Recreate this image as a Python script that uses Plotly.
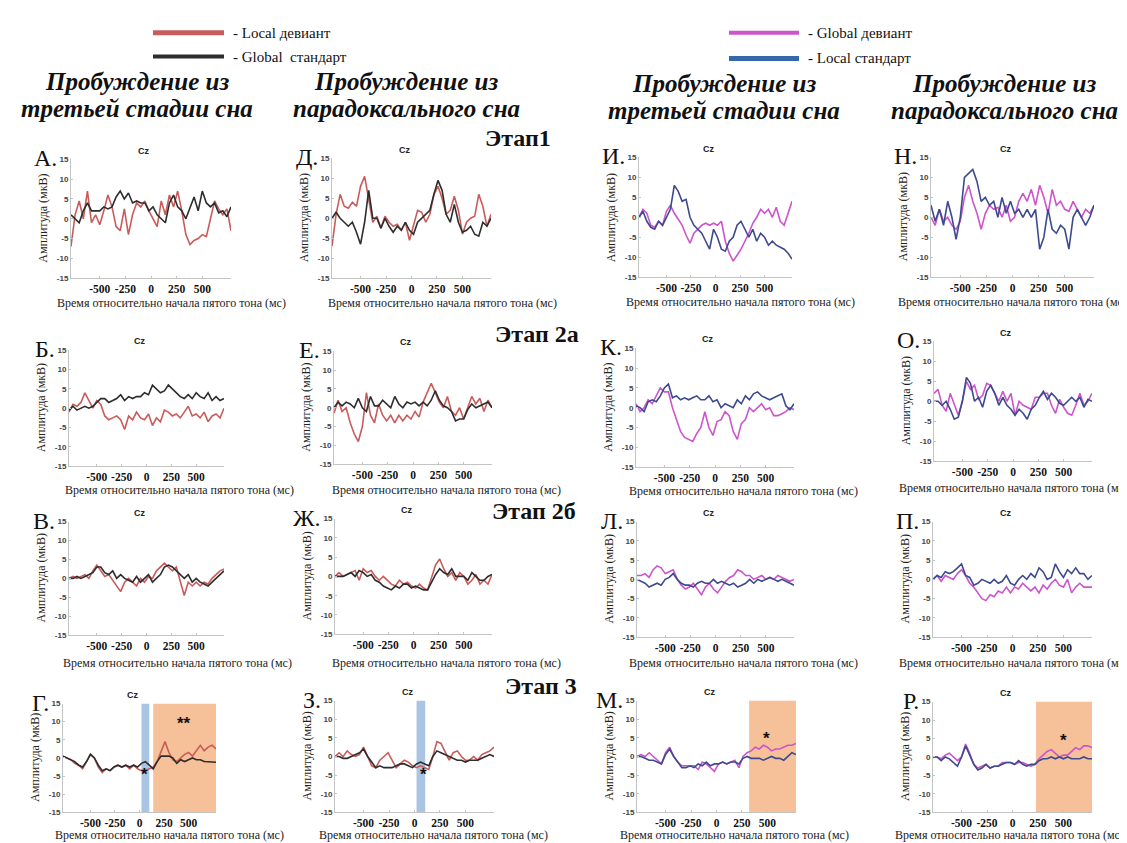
import plotly.graph_objects as go

# ---------------- data ----------------
t_ms = [-780, -740, -700, -660, -620, -580, -540, -500, -460, -420, -380, -340, -300, -260,
        -220, -180, -140, -100, -60, -20, 20, 60, 100, 140, 180, 220, 260, 300, 340, 380,
        420, 460, 500, 540, 580, 620, 660, 700, 740, 780]

# Row 1 (Этап1)
A_local_dev = [-7, 1, 4.5, 0, 7, -1, 1, -1.5, 2, 6, 3, -2, -3, 2.5, -4, 1, 4, 3, 4.5, 2,
               0, -2, 4.5, 1, 6, 3, 7, 2, -4, -6.5, -5.5, -5, -4, -4.5, 0, 4.5, 2.5, 1, 2.5, -3]
A_global_std = [1, 0, -1, 2, 4, 2, 2, 2, 3, 2.5, 3, 5.5, 7, 5, 6.5, 4, 4.5, 4, 4, 2,
                3, 1, 0, -1, 4, 6, 3, 2, 0, 3, 5.5, 2, 7, 4, 3, 4, 1.5, 2, 0.5, 3]
D_local_dev = [-7, 1, 6, 3, 2.5, 4, 3, 8, 10.5, 5, -1, 0.5, -2.5, 0.5, -1, -2, -1.5, -3, -1, -5.5,
               -2, 2, 1.5, -1, 1, 6, 8, 5, 1, 2, 5.5, 2, -4, -1, 0, 0.5, 6, 3, -2, 1]
D_global_std = [0, 1.5, 0, -1, -2, -1, -3.5, -6.5, -1, 7, 0, 0, -2.5, 0, -2, -3.5, -2, -3, -1, -3,
                -4, -1, 0, 1, 2, 6, 9.5, 7, 1, -1, 3.5, -1, -3.5, -3, -2, -4, -4.5, -1, -2, 0]
I_global_dev = [0, 2, 1, -2, -2.5, -1, -2, 1.5, 3, 1, -0.5, -2, -4.5, -6.5, -4, -3, -2, -1.5, -2, -1.5,
                -2, -1, -6, -9, -11, -9.5, -8, -6, -4, -1.5, 0, 2, 1, 2, 0, 2.5, -1, -2, 1, 4]
I_local_std = [0, 1.5, -1, -2.5, -3, -1, -2, 0, 2, 8, 6.5, 4, 4.5, 0, -2, -3, -4, -6, -8, -3,
               -5, -8, -8.5, -6, -5, -2, -1, -3, -5, -3, -6, -4, -5, -7, -6, -7, -7.5, -8, -9, -10.5]
N_global_dev = [0, -2, 2, -1, 0, -2, -3, -1, 5, 8, 4, 1, -3, 1, 3, 2, 2.5, 0, 3, -1,
                0, 4, 6, 4, 7, 3, 8, 5, 1, 7, 3, 4, 2, 1.5, 4, 2, 0, 2, 1, 3]
N_local_std = [3, -1, 2, -2, 4, 0, -5.5, 0, 10, 11, 12, 9, 4, 5, 3, 4, 0, 5, 1, 4,
               1, 2, 0, 2, 0, 2, -8, -5, 2, -3, -4, -2, -3, -8, 0, 2, 0, -2, 0, 3]

# Row 2 (Этап 2а)
B_local_dev = [-1, 1, 0.5, 1.5, 4, 2, 0, 2, 1, -2, -3, -2.5, -2, -3, -5.5, -2, -3, -1, -2.5, -3,
               -1.5, -4.5, -2.5, -3.5, -0.5, -1, -2, -1.5, -2.5, -1, 0.5, -2, -1.5, -2.5, -1, -3.5, -2, -1.5, -2.5, 0]
B_global_std = [-0.5, 0.5, -0.5, 0, 0.5, 0, 0.5, 1.5, 2.5, 2.5, 1.5, 2, 2.5, 3.5, 2, 3, 2.5, 3, 3, 4,
                3.5, 6, 5, 4, 4.5, 6, 5, 4, 3, 2.5, 3.5, 2.5, 4, 3, 2.5, 4, 2, 3, 2, 2.5]
E_local_dev = [-1.5, 2, -1, 0, -4, -7, -9, -5, 4, -2, -4, 1, -2, -3.5, -2, -4, -2, -3.5, -2, -3,
               -1, -2.5, 1.5, 4, 6.5, 4, 1.5, 0, 3, -1, -2, 0, -3, 0, 3, 1, 2.5, -1, 2, 0]
E_global_std = [0, 1.5, 0.5, 1.5, 1, 0, 2.5, 0, -1, 3, 0.5, 0.5, 2, 1, 0, 3, 1, 0, 1.5, 1,
                1.5, 0.5, 1.5, 0.5, 2, 4.5, 2, 0.5, 0, -1, -3.5, -3, -3, -0.5, 1, 0, 0.5, 1, 1.5, 0]
K_global_dev = [1, -1, 0, 2, 1, 3, 5, 4, 4, 0, -3, -6, -7.5, -8, -8.5, -6.5, -5, -1, -5, -7,
                -3.5, -3, -1, -2, -6, -8, -4, -3, 0, -1, 0, 1, -0.5, 0, -2, -2, -1.5, -1, 0, -0.5]
K_local_std = [0.5, 0, -1, 1.5, 2, 1.5, 3, 5, 6, 2.5, 3, 2, 2.5, 2, 2.5, 3, 2, 2, 3, 1.5,
               2, 0, 1, 0.5, 0, 2, 1, 3, 2, 3.5, 4, 3, 2.5, 2, 2.5, 3, 3.5, 0.5, -0.5, 1]
O_global_dev = [2, 3, -1, -2.5, 2, -1, -3.5, 0, 5, 3, 4, 0.5, 1.5, 4.5, 4, 2, 0, 2.5, 0, 2,
                -3.5, 0, -1, -1.5, -2, 1, 1, 2, 2, -1, -3, 0.5, -1.5, -3, -3.5, -1, 2, -1, 0, 2]
O_local_std = [0, 0, -1, 0, -2, -4.5, -4, 0, 6, 4.5, 0, 1, -1.5, 2.5, 4, 2, -1, 1, -1, -2,
               -3.5, -2, -3, -4.5, -2, -1, 1, 2.5, 0.5, 2, 1, -0.5, -1, 0, 1, 0, 1, -1.5, 0.5, 0]

# Row 3 (Этап 2б)
V_local_dev = [0, 0.5, 0, 0.5, 1, 0, 2, 3.5, 2, 0.5, 1, -0.5, -2, -3.5, -1, 0, -1, -2, 0, -1,
               0.5, 0, 2, 3, 4, 3, 2, 3, -1, -4.5, -1, -2, -1, -2, -1, -1.5, 0, 1, 2, 2.5]
V_global_std = [0, 0, 0.5, 0, 0.5, 1, 1.5, 3, 3, 1.5, 1, 2, 0, 1, 0, -0.5, -1, 0.5, -1, 0,
                1, -1, 0, 1, 3, 3.5, 3, 2, 1, 0, 1, -1, 0, -1, -1.5, -2, -1, 0, 1, 2]
Zh_local_dev = [0, 1, 0, 0.5, 1, 1.5, -1, 2, 1, 1.5, 0, -1, 0, -1, -2, -2.5, -1, -2, -1.5, -2.5,
                -3, -2, -3, -3.5, 0, 3, 4.5, 2, 0, 1, -1, 1, 0, -2, -1, 0.5, -2, -1, -2, 0.5]
Zh_global_std = [0, 0, 0, 0.5, 1, 0, 1.5, 1, 0, 0.5, -1, -1.5, -2.5, -3, -3.5, -2.5, -3, -2, -2, -3,
                 -2.5, -3, -3.5, -3.5, -1.5, 0.5, 2, 1, 0.5, 2, 0, 0, 0, -1, 1, 0, -1, -1, 0, 0.5]
L_global_dev = [1, 1, 1.5, 0.5, 2.5, 3.5, 3, 1.5, 2, 2.5, 0, -1.5, -2.5, -2, -1, -2.5, -4, -2, -1, -2.5,
                -3.5, -2, -0.5, 0.5, 1, 2.5, 2, 1, 1, 0, 0.5, 1, 0, 0.5, 0, 1, 0.5, 0, -0.5, 0]
L_local_std = [0, -0.5, -1, -2, -1.5, -1, -1.5, 0, 0.5, 1.5, 0, -1, -1.5, -1.5, -2, -1, -0.5, -1, -1, 0,
               -1, -0.5, -1, -1.5, -1, -2, -1.5, -1, 0, -1, 0, -0.5, 0, 0.5, 0, -0.5, 0, -0.5, -1, -1.5]
P_global_dev = [0, 1, -0.5, 1, 0.5, 0, 1.5, 2.5, 1, -1, -2, -3.5, -5, -5.5, -4, -4.5, -3, -3.5, -2, -3.5,
                -2, -2.5, -1, -2, -3, -2, -3.5, -1.5, -2.5, -1, 0, -1.5, -2, 0, -3.5, -2, -1, -2, -2, -2]
P_local_std = [0, 1, 0.5, 2, 1.5, 2, 3, 4, 1, 0.5, -1.5, -1, 0, -0.5, -1, 0, -1, -0.5, 1, -1,
               -1.5, 0, 1, 0, 1.5, 0.5, 3, 2, 0, 0.5, 4, 2, 0.5, 2.5, 1.5, 3, 1.5, 1.5, 0, 1]

# Row 4 (Этап 3)
G_local_dev = [0.5, 0, -0.5, -1.5, -2, -3, -1, 1, 0, -2.5, -4, -3, -3.5, -2.5, -2, -2.5, -2, -3, -2, -3,
               -3.5, -3.5, -3, -2.5, -1, 2, 4.5, 1.5, -0.5, -1, 0, 1, 1.5, 0.5, 2, 3.5, 2, 3, 3.5, 2.5]
G_global_std = [0.5, 0, -0.5, -1, -2, -2.5, -1, 1, 0, -2, -3.5, -3, -3.5, -2.5, -2, -2.5, -2, -2.5, -2, -2.5,
                -1.5, -1, -2, -3, -1, 0.5, 0.5, 0.5, 0, -1.5, -0.5, -1, -0.5, 0, -0.5, -0.5, -1, -1, -1, -1.2]
Z_local_dev = [0, 1, 0, 1.5, 0.5, 0, 0.5, 2.5, 0, -2.5, -3, -1, 0, 1, -1, -3, -2, -1, -1.5, -2.5,
               -3, -2.5, -3, -3.5, 0, 4, 3.5, 1, -1, 1, 1.5, 0, -1, -1, 0, -1, 0.5, 1, 1.5, 2.5]
Z_global_std = [0, 0, -0.5, -0.5, 0, 0.5, 1, 2, 0, -1.5, -3, -2.5, -3, -3, -3, -2.5, -2, -2, -2.5, -3,
                -2, -1.5, -2, -2.5, 0, 1.5, 1, 0.5, 0, -0.5, -1, -1, -1.5, -1, -1, -1, -0.5, 0, 0.5, 0]
M_global_dev = [0, 0.5, 0, 1, 0, -1, -2, 1, 2.5, 0, -1.5, -2.5, -2.5, -2.5, -2.5, -3.5, -1.5, -2, -3, -4,
                -2, -1.5, -2, -1.5, -1, -3, 0, 1, 1.5, 2.5, 2, 3, 2.5, 1.5, 2, 2, 2.5, 3, 3, 3.5]
M_local_std = [0, 0, -0.5, -1, -1, -1.5, -2, 0.5, 2, 0, -1.5, -3, -3, -2.5, -3, -2, -2.5, -1.5, -2.5, -2,
               -2, -1.5, -2, -1.5, -1.5, -2, -0.5, 0, -0.5, -0.5, -0.5, -1, -0.5, 0, -0.5, -0.5, -1, 0, 1, 0.5]
R_global_dev = [0, 0, -0.5, 0.5, 1, 0, -1, 0, 3.5, 1, -2, -3, -2.5, -2, -3, -2.5, -2.5, -1.5, -1.5, -1.5,
                -2, -1.5, -1.5, -2, -2.5, -2, -0.5, 0.5, 1.5, 2, 1, 0, 0.5, 0.5, 1.5, 2.5, 2, 3, 3, 2.5]
R_local_std = [0, 0, -1, 0, -0.5, -1.5, -2.5, 0, 3, 0.5, -2, -3.5, -3, -2, -3, -2.5, -2.5, -2, -1.5, -1.5,
               -2, -1, -2, -2.5, -2, -2, -1, -0.5, -0.5, 0, -0.5, 0, -0.5, 0, -0.5, -0.5, -0.5, 0, -0.5, -0.5]

x_ticks = [-500, -250, 0, 250, 500]
x_tick_labels = ["-500", "-250", "0", "250", "500"]
y_ticks = [-15, -10, -5, 0, 5, 10, 15]
y_tick_labels = ["-15", "-10", "-5", "0", "5", "10", "15"]

# significance windows (ms) and star marks (ms, мкВ)
G_windows = [("early", 20, 100), ("late", 140, 780)]
Z_windows = [("early", 20, 105)]
M_windows = [("late", 320, 780)]
R_windows = [("late", 230, 780)]
G_stars = [("**", 450, 9.4), ("*", 50, -4.7)]
Z_stars = [("*", 90, -4.9)]
M_stars = [("*", 490, 4.8)]
R_stars = [("*", 500, 4.5)]

left_names = ["Local девиант", "Global стандарт"]
right_names = ["Global девиант", "Local стандарт"]

# ---------------- layout config ----------------
W, H = 1127, 843
RED, BLACK, MAG, NAVY = "#c85c5a", "#2d2d2d", "#cc55cc", "#3d4a8e"
SERIF = "Liberation Serif, Times New Roman, Times, serif"
SANS = "Liberation Sans, Arial, sans-serif"

def fx(p):
    return p / W

def fy(p):
    return 1 - p / H

panels = [
    # letter, series pair, side, box (x0, x1, ytop, ybot), x-title centre, x-title offset, windows, stars
    ("А.", A_local_dev, A_global_std, "L", (63, 223, 149, 269), 163, 25, [], []),
    ("Д.", D_local_dev, D_global_std, "L", (324, 483, 148, 269), 434, 25, [], []),
    ("И.", I_global_dev, I_local_std, "R", (631, 784, 147, 268), 732, 25, [], []),
    ("Н.", N_global_dev, N_local_std, "R", (923, 1086, 147, 268), 1004, 25, [], []),
    ("Б.", B_local_dev, B_global_std, "L", (61, 216, 342, 459), 171, 24, [], []),
    ("Е.", E_local_dev, E_global_std, "L", (326, 484, 343, 457), 438, 26, [], []),
    ("К.", K_global_dev, K_local_std, "R", (628, 786, 340, 460), 735, 24, [], []),
    ("О.", O_global_dev, O_local_std, "R", (926, 1084, 333, 454), 1005, 27, [], []),
    ("В.", V_local_dev, V_global_std, "L", (61, 216, 515, 630), 169, 28, [], []),
    ("Ж.", Zh_local_dev, Zh_global_std, "L", (327, 484, 512, 629), 438, 29, [], []),
    ("Л.", L_global_dev, L_local_std, "R", (629, 786, 515, 632), 735, 26, [], []),
    ("П.", P_global_dev, P_local_std, "R", (925, 1084, 515, 632), 1005, 26, [], []),
    ("Г.", G_local_dev, G_global_std, "L", (55, 208, 699, 809), 161, 23, G_windows, G_stars),
    ("З.", Z_local_dev, Z_global_std, "L", (327, 486, 696, 809), 425, 23, Z_windows, Z_stars),
    ("М.", M_global_dev, M_local_std, "R", (629, 788, 696, 809), 726, 23, M_windows, M_stars),
    ("Р.", R_global_dev, R_local_std, "R", (925, 1084, 697, 809), 1001, 23, R_windows, R_stars),
]

fig = go.Figure()
annotations = []
shapes = []
layout_axes = {}

for i, (letter, s1, s2, side, box, xt_c, xt_off, windows, stars) in enumerate(panels, start=1):
    x0, x1, yt, yb = box
    sfx = "" if i == 1 else str(i)
    xa, ya = "x" + sfx, "y" + sfx
    if side == "L":
        c1, c2 = RED, BLACK
        n1, n2 = left_names
    else:
        c1, c2 = MAG, NAVY
        n1, n2 = right_names
    fig.add_trace(go.Scatter(x=t_ms, y=s1, mode="lines", name=n1, showlegend=False,
                             line=dict(color=c1, width=1.6), xaxis=xa, yaxis=ya))
    fig.add_trace(go.Scatter(x=t_ms, y=s2, mode="lines", name=n2, showlegend=False,
                             line=dict(color=c2, width=1.6), xaxis=xa, yaxis=ya))
    layout_axes["xaxis" + sfx] = dict(
        domain=[fx(x0), fx(x1)], anchor=ya, range=[-780, 780],
        tickmode="array", tickvals=x_ticks, ticktext=x_tick_labels,
        showgrid=False, zeroline=False, showline=True, linecolor="#c4c4c4", linewidth=1,
        ticks="inside", ticklen=2, tickcolor="#c4c4c4",
        tickfont=dict(family=SERIF, size=11.5, color="#111", weight="bold"),
    )
    layout_axes["yaxis" + sfx] = dict(
        domain=[fy(yb), fy(yt)], anchor=xa, range=[-15, 15],
        tickmode="array", tickvals=y_ticks, ticktext=y_tick_labels,
        showgrid=False, zeroline=False, showline=True, linecolor="#c4c4c4", linewidth=1,
        ticks="inside", ticklen=2, tickcolor="#c4c4c4",
        tickfont=dict(family=SANS, size=8, color="#444", weight="bold"),
    )
    for kind, w0, w1 in windows:
        shapes.append(dict(type="rect", xref=xa, yref=ya, x0=w0, x1=w1, y0=-15, y1=15,
                           fillcolor="rgb(170,196,228)" if kind == "early" else "rgb(246,192,152)",
                           line=dict(width=0), layer="below"))
    for txt, sx, sy in stars:
        annotations.append(dict(text=txt, x=sx, y=sy, xref=xa, yref=ya, showarrow=False,
                                font=dict(family=SANS, size=17, color="#111", weight="bold"),
                                xanchor="center", yanchor="middle"))
    # panel letter
    annotations.append(dict(text=letter, x=fx(x0 - 12), y=fy(yt - 1), xref="paper", yref="paper",
                            showarrow=False, xanchor="right", yanchor="middle",
                            font=dict(family=SERIF, size=24, color="#111")))
    # Cz
    annotations.append(dict(text="Cz", x=fx((x0 + x1) / 2 - 7), y=fy(yt - 9), xref="paper", yref="paper",
                            showarrow=False, xanchor="center", yanchor="middle",
                            font=dict(family=SANS, size=9, color="#222", weight="bold")))
    # y title
    annotations.append(dict(text="Амплитуда (мкВ)", x=fx(x0 - 28), y=fy((yt + yb) / 2),
                            xref="paper", yref="paper", showarrow=False, textangle=-90,
                            xanchor="center", yanchor="middle",
                            font=dict(family=SERIF, size=12, color="#222")))
    # x title
    annotations.append(dict(text="Время относительно начала пятого тона (мс)", x=fx(xt_c),
                            y=fy(yb + xt_off), xref="paper", yref="paper", showarrow=False,
                            xanchor="center", yanchor="middle",
                            font=dict(family=SERIF, size=12, color="#222")))

# column titles
col_titles = [(129, 70, 98), (398, 70, 98), (716, 72, 100), (996, 72, 100)]
col_lines = [("Пробуждение из", "третьей стадии сна"), ("Пробуждение из", "парадоксального сна"),
             ("Пробуждение из", "третьей стадии сна"), ("Пробуждение из", "парадоксального сна")]
for (cx, y1, y2), (l1, l2) in zip(col_titles, col_lines):
    for txt, yy in ((l1, y1), (l2, y2)):
        annotations.append(dict(text="<b><i>" + txt + "</i></b>", x=fx(cx), y=fy(yy),
                                xref="paper", yref="paper", showarrow=False,
                                xanchor="center", yanchor="middle",
                                font=dict(family=SERIF, size=25, color="#111")))

# stage labels
for txt, cx, cy in (("Этап1", 510, 127), ("Этап 2а", 529, 325), ("Этап 2б", 526, 504), ("Этап 3", 533, 681)):
    annotations.append(dict(text="<b>" + txt + "</b>", x=fx(cx), y=fy(cy), xref="paper", yref="paper",
                            showarrow=False, xanchor="center", yanchor="middle",
                            font=dict(family=SERIF, size=24, color="#111")))

# legend keys
legend_items = [(145, 216, 21, RED, 5, "- " + left_names[0]),
                (145, 216, 45, BLACK, 4, "- Global  стандарт"),
                (721, 791, 21, MAG, 4, "- " + right_names[0]),
                (721, 791, 47, "#3468a8", 5, "- " + right_names[1])]
for lx0, lx1, ly, col, lw, txt in legend_items:
    shapes.append(dict(type="line", xref="paper", yref="paper", x0=fx(lx0), x1=fx(lx1),
                       y0=fy(ly), y1=fy(ly), line=dict(color=col, width=lw)))
    annotations.append(dict(text=txt, x=fx(lx1 + 7), y=fy(ly), xref="paper", yref="paper",
                            showarrow=False, xanchor="left", yanchor="middle",
                            font=dict(family=SERIF, size=15, color="#111")))

fig.update_layout(
    width=W, height=H, autosize=False,
    margin=dict(l=0, r=0, t=0, b=0),
    paper_bgcolor="white", plot_bgcolor="white",
    showlegend=False,
    annotations=annotations, shapes=shapes,
    **layout_axes,
)

fig.write_html("out.html")
